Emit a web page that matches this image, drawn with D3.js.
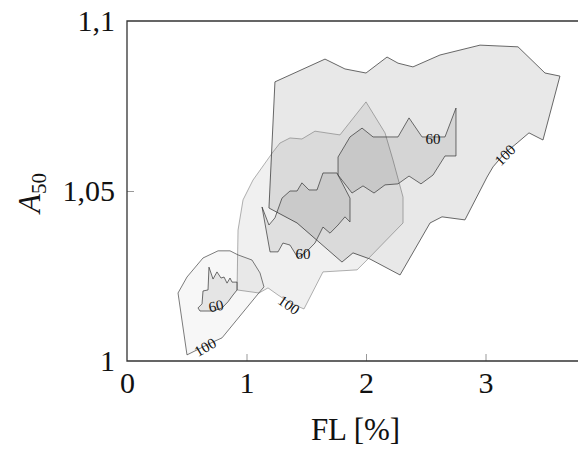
<!DOCTYPE html>
<html>
<head>
<meta charset="utf-8">
<script src="https://cdn.jsdelivr.net/npm/d3@7"></script>
<style>
  html, body { margin: 0; padding: 0; background: #fff; }
  svg { display: block; }
  text { font-family: "Liberation Serif", "DejaVu Serif", serif; }
</style>
</head>
<body>
<svg id="chart" width="578" height="450"></svg>
<script>
// ---- data (FL [%], A50) ----
const xTicks = [0, 1, 2, 3];
const yTicks = [1, 1.05, 1.1];
const xTickLabels = ["0", "1", "2", "3"];
const yTickLabels = ["1", "1,05", "1,1"];

// outer (100) contour of the large cluster
const c100 = [[1.238,1.0821],[1.657,1.0888],[1.824,1.0859],[2.000,1.0847],[2.176,1.0894],[2.268,1.0876],[2.393,1.0865],[2.619,1.0900],[2.954,1.0929],[3.272,1.0924],[3.498,1.0847],[3.623,1.0838],[3.481,1.0650],[3.364,1.0671],[3.264,1.0641],[3.163,1.0612],[3.063,1.0571],[3.013,1.0541],[2.828,1.0415],[2.636,1.0424],[2.536,1.0406],[2.285,1.0253],[2.033,1.0300],[1.891,1.0318],[1.799,1.0291],[1.423,1.0406],[1.188,1.0450]];
// outer (100) contour of the middle cluster
const b100 = [[2.000,1.0762],[2.159,1.0671],[2.226,1.0591],[2.310,1.0482],[2.310,1.0406],[2.008,1.0297],[1.925,1.0268],[1.640,1.0262],[1.481,1.0153],[1.364,1.0171],[1.264,1.0194],[1.180,1.0215],[1.105,1.0200],[0.921,1.0209],[0.929,1.0385],[0.971,1.0474],[1.054,1.0532],[1.222,1.0615],[1.280,1.0641],[1.364,1.0656],[1.464,1.0653],[1.573,1.0676],[1.782,1.0665]];
// outer (100) contour of the small cluster
const a100 = [[0.502,1.0018],[0.427,1.0200],[0.502,1.0247],[0.636,1.0303],[0.762,1.0324],[0.862,1.0324],[0.929,1.0312],[1.046,1.0297],[1.113,1.0259],[1.146,1.0218],[1.096,1.0197],[0.795,1.0068],[0.720,1.0056]];
// inner (60) contours
const c60 = [[1.766,1.0600],[1.866,1.0659],[1.967,1.0685],[2.059,1.0659],[2.268,1.0659],[2.360,1.0715],[2.469,1.0659],[2.661,1.0659],[2.753,1.0744],[2.753,1.0603],[2.661,1.0603],[2.561,1.0547],[2.460,1.0521],[2.360,1.0544],[2.268,1.0521],[2.159,1.0518],[2.067,1.0494],[1.975,1.0515],[1.883,1.0494],[1.766,1.0547]];
const b60 = [[1.130,1.0453],[1.188,1.0400],[1.238,1.0421],[1.297,1.0479],[1.364,1.0500],[1.423,1.0500],[1.464,1.0524],[1.523,1.0503],[1.590,1.0503],[1.640,1.0553],[1.757,1.0553],[1.866,1.0479],[1.866,1.0409],[1.824,1.0424],[1.766,1.0400],[1.699,1.0376],[1.640,1.0394],[1.573,1.0347],[1.515,1.0326],[1.431,1.0303],[1.364,1.0341],[1.305,1.0347],[1.264,1.0321],[1.197,1.0321]];
const a60 = [[0.686,1.0276],[0.720,1.0241],[0.753,1.0262],[0.787,1.0244],[0.812,1.0247],[0.837,1.0229],[0.862,1.0244],[0.879,1.0232],[0.921,1.0232],[0.921,1.0209],[0.887,1.0194],[0.845,1.0174],[0.795,1.0156],[0.720,1.0147],[0.611,1.0147],[0.594,1.0156],[0.628,1.0168],[0.636,1.0206],[0.678,1.0209]];

// contour labels: [text, x, y, angle]
const contourLabels = [["100",0.653,1.0041,-30],["60",0.745,1.0162,-12],["100",1.356,1.0165,35],["60",1.473,1.0315,0],["60",2.561,1.0653,0],["100",3.163,1.0606,-45]];

// ---- layout ----
const svg = d3.select("#chart");
const L = 127, T = 21, B = 361, pxPerX = 119.5;
const xMax = 3.8;
const x = d3.scaleLinear().domain([0, xMax]).range([L, L + xMax * pxPerX]);
const y = d3.scaleLinear().domain([1, 1.1]).range([B, T]);

const line = d3.line().x(d => x(d[0])).y(d => y(d[1])).curve(d3.curveLinearClosed);

const shapes = [
  { data: c100, fill: "#000", fo: 0.09, stroke: "#444", so: 0.8 },
  { data: b100, fill: "#000", fo: 0.06, stroke: "#555", so: 0.45 },
  { data: a100, fill: "#000", fo: 0.03, stroke: "#444", so: 0.7 },
  { data: c60, fill: "#000", fo: 0.08, stroke: "#333", so: 0.7 },
  { data: b60, fill: "#000", fo: 0.07, stroke: "#333", so: 0.7 },
  { data: a60, fill: "#000", fo: 0.07, stroke: "#333", so: 0.7 }
];

svg.append("g").selectAll("path").data(shapes).join("path")
  .attr("d", d => line(d.data))
  .attr("fill", d => d.fill).attr("fill-opacity", d => d.fo)
  .attr("stroke", d => d.stroke).attr("stroke-opacity", d => d.so)
  .attr("stroke-width", 1).attr("stroke-linejoin", "miter");

svg.append("g").selectAll("text").data(contourLabels).join("text")
  .attr("transform", d => `translate(${x(d[1])},${y(d[2])}) rotate(${d[3]})`)
  .attr("text-anchor", "middle").attr("dy", "0.35em")
  .attr("font-size", 15).attr("fill", "#111")
  .text(d => d[0]);

// axes
const fs = 30;
const xAxis = d3.axisBottom(x).tickValues(xTicks).tickFormat((d, i) => xTickLabels[i])
  .tickSizeInner(-7).tickSizeOuter(0).tickPadding(11);
const gx = svg.append("g").attr("transform", `translate(0,${B})`).call(xAxis);
gx.select(".domain").remove();
gx.selectAll("line").attr("stroke", "#999");
gx.selectAll(".tick").filter(d => d === 0).select("line").remove();
gx.selectAll("text").attr("font-size", fs).attr("font-family", "Liberation Serif").attr("fill", "#111");

const yAxis = d3.axisLeft(y).tickValues(yTicks).tickFormat((d, i) => yTickLabels[i])
  .tickSizeInner(-7).tickSizeOuter(0).tickPadding(12);
const gy = svg.append("g").attr("transform", `translate(${L},0)`).call(yAxis);
gy.select(".domain").remove();
gy.selectAll("line").attr("stroke", "#999");
gy.selectAll(".tick").filter(d => d === 1 || d === 1.1).select("line").remove();
gy.selectAll("text").attr("font-size", fs).attr("font-family", "Liberation Serif").attr("fill", "#111");

// frame
const xr = x.range()[1];
svg.append("path")
  .attr("d", `M${xr},${T}H${L}V${B}H${xr}`)
  .attr("fill", "none").attr("stroke", "#333").attr("stroke-width", 1.3);

// axis titles
svg.append("text").attr("x", (L + 578) / 2 + 3).attr("y", 440)
  .attr("text-anchor", "middle").attr("font-size", 31).attr("fill", "#111")
  .text("FL [%]");

const yl = svg.append("text").attr("transform", `translate(40,193) rotate(-90)`)
  .attr("text-anchor", "middle").attr("fill", "#111");
yl.append("tspan").attr("font-size", 31).attr("font-style", "italic").text("A");
yl.append("tspan").attr("font-size", 21).attr("dy", 6).text("50");
</script>
</body>
</html>
